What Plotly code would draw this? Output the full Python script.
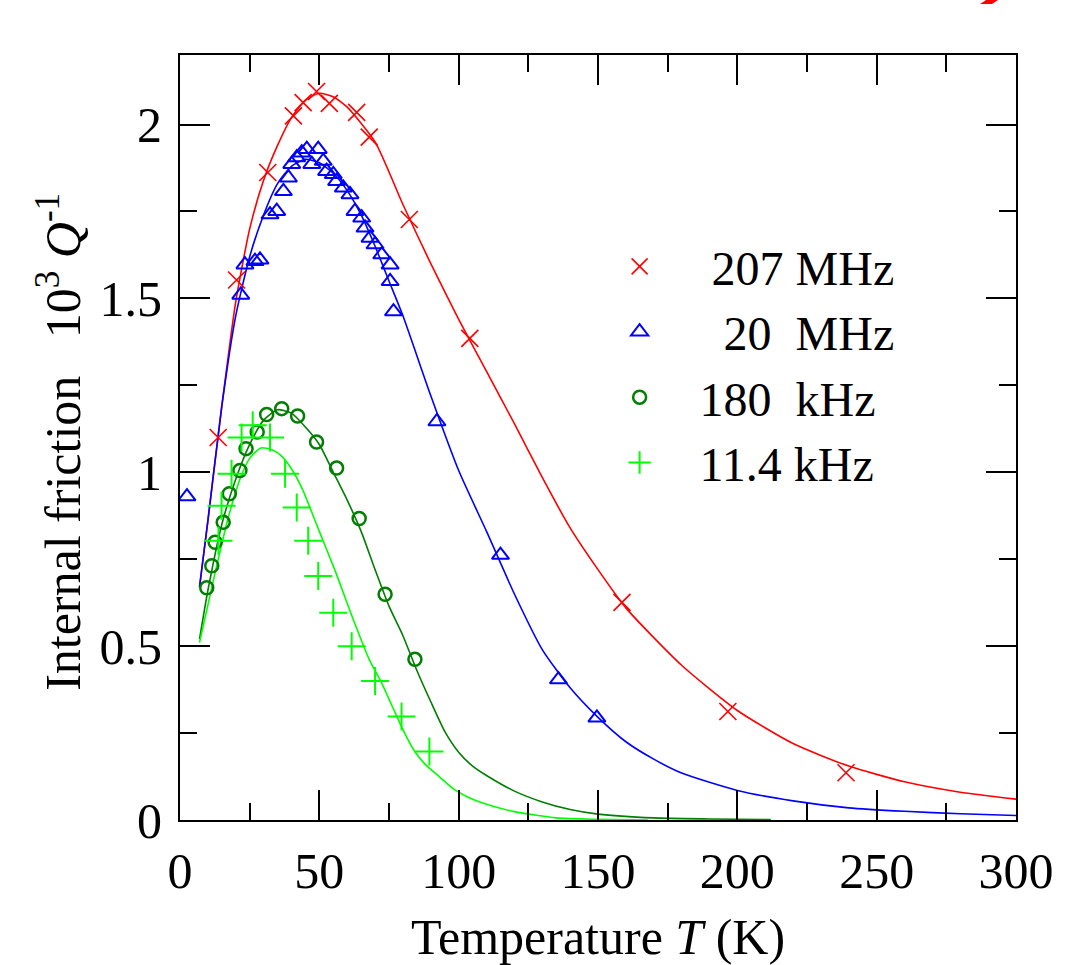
import plotly.graph_objects as go

# ---------------- data ----------------
# 207 MHz (red x)
t_207 = [13.7, 20.3, 31.5, 40.7, 44.2, 49.0, 53.6, 63.4, 67.9, 82.3, 104.0, 158.6, 196.6, 239.0]
q_207 = [1.10, 1.553, 1.862, 2.025, 2.063, 2.095, 2.061, 2.035, 1.964, 1.727, 1.385, 0.626, 0.312, 0.136]

# 20 MHz (blue triangles)
t_20 = [2.5, 21.8, 23.3, 26.9, 28.7, 32.3, 34.7, 37.1, 38.9, 40.1, 41.9, 43.7, 45.5, 47.3, 49.6,
        51.4, 52.6, 55.0, 56.2, 58.6, 61.0, 62.8, 65.2, 66.4, 68.2, 70.0, 72.4, 75.4, 75.4, 76.6,
        92.2, 115.0, 135.8, 149.6]
q_20 = [0.93, 1.51, 1.597, 1.607, 1.611, 1.741, 1.751, 1.808, 1.847, 1.886, 1.905, 1.919, 1.929, 1.886, 1.929,
        1.895, 1.866, 1.857, 1.837, 1.818, 1.799, 1.751, 1.732, 1.703, 1.674, 1.655, 1.626, 1.597, 1.549, 1.462,
        1.146, 0.762, 0.404, 0.294]

# 180 kHz (dark green circles)
t_180 = [9.6, 11.4, 12.6, 15.5, 17.7, 21.5, 23.7, 27.7, 31.1, 36.5, 42.2, 49.0, 56.2, 64.3, 73.6, 84.3]
q_180 = [0.668, 0.731, 0.799, 0.856, 0.938, 1.005, 1.068, 1.116, 1.166, 1.183, 1.162, 1.087, 1.012, 0.867, 0.649, 0.462]

# 11.4 kHz (light green plus)
t_11 = [13.8, 14.9, 18.5, 22.1, 26.1, 32.3, 37.7, 41.9, 46.0, 49.6, 55.0, 61.6, 70.0, 79.5, 89.5]
q_11 = [0.803, 0.904, 0.996, 1.10, 1.135, 1.10, 0.996, 0.899, 0.803, 0.702, 0.596, 0.50, 0.40, 0.298, 0.197]

# fitted curves
ft_207 = [7, 10, 15, 20, 25, 30, 35, 40, 45, 50, 55, 60, 70, 80, 90, 100, 110, 120, 130, 140, 150, 160, 180,
          200, 220, 240, 260, 280, 300]
fq_207 = [0.67, 0.86, 1.19, 1.49, 1.70, 1.84, 1.94, 2.02, 2.07, 2.09, 2.08, 2.05, 1.95, 1.77, 1.60, 1.44,
          1.29, 1.14, 0.985, 0.84, 0.72, 0.61, 0.445, 0.315, 0.22, 0.155, 0.11, 0.08, 0.06]

ft_20 = [7, 10, 15, 20, 25, 30, 35, 40, 45, 50, 55, 60, 65, 70, 75, 80, 90, 100, 110, 120, 130, 140, 150,
         160, 170, 180, 200, 220, 240, 260, 280, 300]
fq_20 = [0.67, 0.86, 1.19, 1.45, 1.62, 1.74, 1.83, 1.88, 1.90, 1.89, 1.86, 1.81, 1.74, 1.65, 1.55, 1.45,
         1.22, 1.005, 0.83, 0.65, 0.49, 0.38, 0.295, 0.225, 0.175, 0.135, 0.085, 0.055, 0.035, 0.025, 0.018, 0.013]

ft_180 = [7, 10, 15, 20, 25, 30, 35, 40, 45, 50, 55, 60, 65, 70, 75, 80, 85, 90, 95, 100, 105, 110, 120,
          130, 140, 150, 170, 190, 212]
fq_180 = [0.52, 0.66, 0.85, 0.98, 1.08, 1.15, 1.18, 1.17, 1.13, 1.08, 1.00, 0.92, 0.83, 0.72, 0.615, 0.53,
          0.43, 0.34, 0.255, 0.195, 0.155, 0.128, 0.083, 0.052, 0.03, 0.017, 0.006, 0.003, 0.001]

ft_11 = [7, 12, 17, 21.5, 25, 29, 33, 36, 40, 44, 50, 56, 62, 68, 72, 76, 80, 84, 88, 93, 98, 103, 110,
         120, 135, 150, 168]
fq_11 = [0.51, 0.69, 0.86, 0.98, 1.04, 1.07, 1.065, 1.05, 1.01, 0.95, 0.83, 0.71, 0.58, 0.46, 0.40, 0.33,
         0.26, 0.20, 0.16, 0.125, 0.09, 0.067, 0.045, 0.024, 0.006, 0.002, 0.0]

RED, BLUE, DGREEN, LGREEN = "#ff0000", "#0000ff", "#007f00", "#00ff00"
FONT = "Liberation Serif"

fig = go.Figure()

# curves first (underneath)
for ft, fq, c in [(ft_207, fq_207, RED), (ft_20, fq_20, BLUE), (ft_180, fq_180, DGREEN), (ft_11, fq_11, LGREEN)]:
    fig.add_trace(go.Scatter(x=ft, y=fq, mode="lines", line=dict(color=c, width=1.6, shape="spline", smoothing=0.6),
                             showlegend=False, hoverinfo="skip"))

sp = "\u00a0"
fig.add_trace(go.Scatter(x=t_207, y=q_207, mode="markers", name=sp + "207" + sp + "MHz", legendgroup="a",
                         marker=dict(symbol="x-thin-open", size=17, color=RED, line=dict(color=RED, width=1.6))))
fig.add_trace(go.Scatter(x=t_20, y=q_20, mode="markers", name=sp * 2 + "20" + sp * 2 + "MHz", legendgroup="b",
                         marker=dict(symbol="triangle-up-open", size=15, color=BLUE, line=dict(color=BLUE, width=2))))
fig.add_trace(go.Scatter(x=t_180, y=q_180, mode="markers", name="180" + sp * 2 + "kHz", legendgroup="c",
                         marker=dict(symbol="circle-open", size=13, color=DGREEN, line=dict(color=DGREEN, width=2.5))))
fig.add_trace(go.Scatter(x=t_11, y=q_11, mode="markers", name="11.4" + sp + "kHz", legendgroup="d",
                         marker=dict(symbol="cross-thin-open", size=20, color=LGREEN, line=dict(color=LGREEN, width=2))))

axis_common = dict(showline=True, linecolor="black", linewidth=2, mirror="ticks", ticks="inside",
                   ticklen=30, tickwidth=2, tickcolor="black", showgrid=False, zeroline=False,
                   automargin=False,
                   tickfont=dict(family=FONT, size=50, color="black"))

fig.update_xaxes(range=[0, 300], dtick=50, tick0=0,
                 minor=dict(dtick=25, ticks="inside", ticklen=17, tickwidth=2, tickcolor="black", showgrid=False),
                 ticklabelstandoff=6,
                 title=dict(text="Temperature <i>T</i> (K)", font=dict(family=FONT, size=50, color="black"), standoff=60),
                 **axis_common)
fig.update_yaxes(range=[0, 2.2], dtick=0.5, tick0=0,
                 minor=dict(dtick=0.25, ticks="inside", ticklen=17, tickwidth=2, tickcolor="black", showgrid=False),
                 ticklabelstandoff=6,
                 **axis_common)

fig.add_annotation(text="Internal friction" + sp * 3 + "10<sup>3</sup>" + sp + "<i>Q</i><sup>-1</sup>",
                   xref="paper", yref="paper", x=-0.145, y=0.494, textangle=-90, showarrow=False,
                   xanchor="center", yanchor="middle",
                   font=dict(family=FONT, size=50, color="black"))

# small cropped red mark at the top edge
fig.add_shape(type="path", xref="paper", yref="paper",
              path="M 0.957 1.0667 L 0.9713 1.0667 L 0.9785 1.0719 L 0.9642 1.0719 Z",
              fillcolor=RED, line=dict(width=0))

fig.update_layout(
    width=1069, height=965,
    margin=dict(l=180, r=53, t=55, b=145),
    plot_bgcolor="white", paper_bgcolor="white",
    font=dict(family=FONT, size=50, color="black"),
    legend=dict(x=0.478, y=0.773, xanchor="left", yanchor="top", bgcolor="rgba(0,0,0,0)",
                font=dict(family=FONT, size=48, color="black"), itemwidth=110,
                traceorder="grouped", tracegroupgap=0),
)

# remove the default page margin so the figure fills the window exactly
fig.write_html("out.html", config={"displayModeBar": False},
               post_script="document.body.style.margin='0';document.body.style.padding='0';")
